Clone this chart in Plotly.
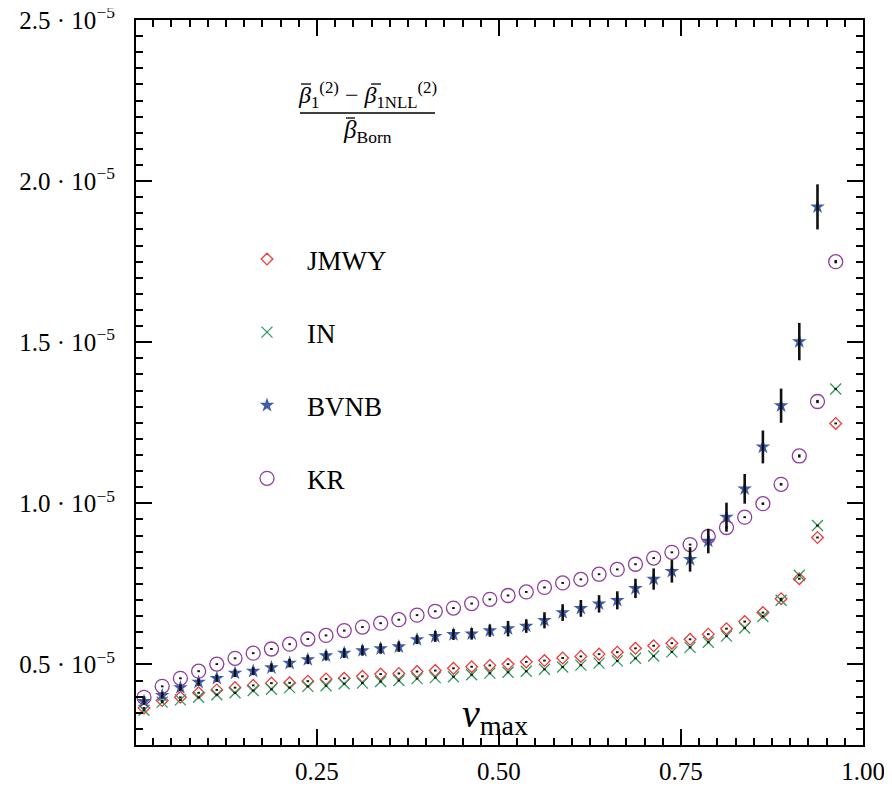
import plotly.graph_objects as go
import numpy as np

SCALE = 1e-5

X = [0.0125, 0.0375, 0.0625, 0.0875, 0.1125, 0.1375, 0.1625, 0.1875, 0.2125, 0.2375,
     0.2625, 0.2875, 0.3125, 0.3375, 0.3625, 0.3875, 0.4125, 0.4375, 0.4625, 0.4875,
     0.5125, 0.5375, 0.5625, 0.5875, 0.6125, 0.6375, 0.6625, 0.6875, 0.7125, 0.7375,
     0.7625, 0.7875, 0.8125, 0.8375, 0.8625, 0.8875, 0.9125, 0.9375, 0.9625]

JMWY = [0.365, 0.388, 0.398, 0.412, 0.421, 0.428, 0.435, 0.442, 0.443, 0.448,
        0.455, 0.457, 0.463, 0.470, 0.472, 0.478, 0.481, 0.488, 0.493, 0.497,
        0.501, 0.508, 0.512, 0.520, 0.525, 0.532, 0.538, 0.550, 0.558, 0.566,
        0.578, 0.594, 0.611, 0.633, 0.661, 0.704, 0.766, 0.894, 1.248]
JMWY_ERR = [0.003] * 39

IN = [0.358, 0.383, 0.390, 0.398, 0.406, 0.412, 0.419, 0.423, 0.428, 0.432,
      0.434, 0.440, 0.442, 0.447, 0.450, 0.456, 0.459, 0.462, 0.468, 0.473,
      0.476, 0.479, 0.485, 0.492, 0.498, 0.504, 0.511, 0.519, 0.526, 0.539,
      0.553, 0.569, 0.588, 0.613, 0.649, 0.699, 0.777, 0.931, 1.355]
IN_ERR = [0.003] * 39

BVNB = [0.385, 0.404, 0.428, 0.445, 0.457, 0.473, 0.479, 0.490, 0.504, 0.515,
        0.527, 0.535, 0.543, 0.549, 0.555, 0.577, 0.587, 0.593, 0.595, 0.605,
        0.611, 0.619, 0.637, 0.661, 0.674, 0.688, 0.699, 0.736, 0.765, 0.789,
        0.826, 0.883, 0.957, 1.045, 1.175, 1.303, 1.502, 1.920]
BVNB_ERR = [0.010, 0.010, 0.010, 0.011, 0.011, 0.012, 0.012, 0.013, 0.013, 0.014,
            0.015, 0.015, 0.016, 0.016, 0.016, 0.014, 0.017, 0.017, 0.018, 0.019,
            0.024, 0.021, 0.025, 0.026, 0.026, 0.027, 0.028, 0.030, 0.033, 0.035,
            0.038, 0.038, 0.045, 0.046, 0.051, 0.053, 0.058, 0.070]

KR = [0.398, 0.432, 0.457, 0.479, 0.501, 0.519, 0.535, 0.548, 0.563, 0.579,
      0.590, 0.605, 0.616, 0.628, 0.639, 0.653, 0.665, 0.675, 0.689, 0.702,
      0.714, 0.725, 0.739, 0.753, 0.764, 0.780, 0.795, 0.811, 0.830, 0.848,
      0.872, 0.897, 0.925, 0.957, 0.999, 1.059, 1.147, 1.316, 1.750]
KR_ERR = [0.003] * 34 + [0.004, 0.004, 0.005, 0.005, 0.005]

X_TICKS = [0.25, 0.50, 0.75, 1.00]
X_TICK_TEXT = ["0.25", "0.50", "0.75", "1.00"]
Y_TICKS = [0.5, 1.0, 1.5, 2.0, 2.5]
Y_TICK_TEXT = ["0.5 · 10<sup>−5</sup>", "1.0 · 10<sup>−5</sup>", "1.5 · 10<sup>−5</sup>",
               "2.0 · 10<sup>−5</sup>", "2.5 · 10<sup>−5</sup>"]

FONT = "Liberation Serif"

# page body has an 8 px margin; plot area in the screenshot: x 136..863, y 20..745
OFF = 8
W, H = 892 - OFF, 786 - OFF
L, T = 136 - OFF, 20 - OFF
R = W - (863 - OFF)
B = H - (745 - OFF)
PW, PH = 863 - 136, 745 - 20


def px(xs):
    return (xs - 136) / PW


def py(ys):
    return (745 - ys) / PH


series = [
    ("JMWY", JMWY, JMWY_ERR, dict(symbol="diamond-open", size=9, color="#f03a3a", line=dict(width=1.3, color="#f03a3a"))),
    ("IN", IN, IN_ERR, dict(symbol="x-thin-open", size=11, color="#2e9a5a", line=dict(width=1.3, color="#2e9a5a"))),
    ("BVNB", BVNB, BVNB_ERR, dict(symbol="star", size=11, color="#3d5cae", line=dict(width=0))),
    ("KR", KR, KR_ERR, dict(symbol="circle-open", size=14, color="#8e3c9c", line=dict(width=1.3, color="#8e3c9c"))),
]

fig = go.Figure()
for name, vals, err, mk in series:
    n = len(vals)
    fig.add_trace(go.Scatter(
        x=X[:n], y=np.array(vals) * SCALE, mode="markers", name=name,
        legendgroup=name, marker=mk, showlegend=True,
    ))
for name, vals, err, mk in series:
    n = len(vals)
    fig.add_trace(go.Scatter(
        x=X[:n], y=np.array(vals) * SCALE, mode="markers", showlegend=False,
        marker=dict(size=1, color="rgba(0,0,0,0)"),
        error_y=dict(type="data", array=np.array(err) * SCALE, visible=True,
                     color="#111111", thickness=2.6, width=0),
        hoverinfo="skip",
    ))

axis_common = dict(
    showline=True, linewidth=2, linecolor="black", mirror="ticks",
    ticks="inside", tickwidth=2, tickcolor="black", ticklen=16,
    showgrid=False, zeroline=False, automargin=False, ticklabeloverflow="allow",
    tickfont=dict(family=FONT, size=25, color="black"),
)

fig.update_xaxes(
    range=[0.0015, 1.0], tickmode="array", tickvals=X_TICKS, ticktext=X_TICK_TEXT,
    ticklabelstandoff=3,
    minor=dict(tickmode="linear", tick0=0, dtick=0.025, ticks="inside", ticklen=7,
               tickwidth=2, tickcolor="black"),
    **axis_common,
)
fig.update_yaxes(
    range=[0.25 * SCALE, 2.5 * SCALE], tickmode="array",
    tickvals=[v * SCALE for v in Y_TICKS], ticktext=Y_TICK_TEXT,
    ticklabelstandoff=14,
    minor=dict(tickmode="linear", tick0=0, dtick=0.05 * SCALE, ticks="inside", ticklen=7,
               tickwidth=2, tickcolor="black"),
    **axis_common,
)


def bar(x0, x1, y):
    return dict(type="line", xref="paper", yref="paper",
                x0=px(x0), x1=px(x1), y0=py(y), y1=py(y),
                line=dict(color="black", width=1.3))


fig.update_layout(
    width=W, height=H,
    margin=dict(l=L, r=R, t=T, b=B),
    plot_bgcolor="white", paper_bgcolor="white",
    font=dict(family=FONT, size=24, color="black"),
    legend=dict(x=px(227), y=py(235), xanchor="left", yanchor="top",
                bgcolor="rgba(0,0,0,0)", tracegroupgap=35, itemwidth=70,
                font=dict(family=FONT, size=27, color="black")),
    annotations=[
        dict(xref="paper", yref="paper", x=px(367), y=py(95),
             text="<i>β</i><sub>1</sub><sup>(2)</sup> − <i>β</i><sub>1NLL</sub><sup>(2)</sup>",
             showarrow=False, font=dict(family=FONT, size=24, color="black"),
             xanchor="center", yanchor="middle"),
        dict(xref="paper", yref="paper", x=px(367), y=py(132),
             text="<i>β</i><sub>Born</sub>",
             showarrow=False, font=dict(family=FONT, size=25, color="black"),
             xanchor="center", yanchor="middle"),
        dict(xref="paper", yref="paper", x=px(495), y=py(716),
             text="<i>v</i><sub>max</sub>",
             showarrow=False, font=dict(family=FONT, size=40, color="black"),
             xanchor="center", yanchor="middle"),
    ],
    shapes=[
        dict(type="line", xref="paper", yref="paper",
             x0=px(300), x1=px(435), y0=py(113), y1=py(113),
             line=dict(color="black", width=1.6)),
        bar(301, 311, 84),
        bar(371, 381, 84),
        bar(346, 355, 118),
    ],
)

fig.write_html("out.html")
